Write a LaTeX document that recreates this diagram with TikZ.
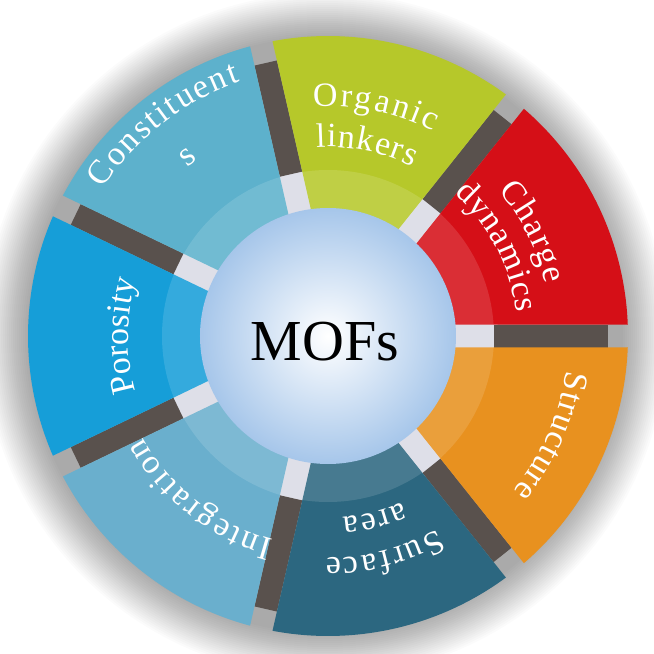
\documentclass[tikz,border=0pt]{standalone}
\usepackage{fontspec}
\setmainfont{Liberation Serif}
\usepackage{xcolor}
\usepackage{tikz}
\usetikzlibrary{decorations.text}

\definecolor{chargered}{HTML}{D50F17}
\definecolor{organicgreen}{HTML}{B6C82A}
\definecolor{constblue}{HTML}{5DB1CC}
\definecolor{porosblue}{HTML}{169ED8}
\definecolor{integblue}{HTML}{6AAFCD}
\definecolor{surfteal}{HTML}{2C6780}
\definecolor{structorange}{HTML}{E8911F}
\definecolor{barbrown}{HTML}{59514D}
\definecolor{gapgray}{HTML}{DADBE5}
\definecolor{mofblue}{HTML}{A6C6EA}

\newcommand{\labelfont}{\fontsize{17}{19}\selectfont}

\tikzset{
  seglabel/.style={decorate, decoration={text along path, text color=white,
      text align=fit to path, text={|\labelfont|#1}}},
  seglabelc/.style={decorate, decoration={text along path, text color=white,
      text align=center, text={|\labelfont|#1}}},
  barfill/.style={fill=barbrown},
}

\begin{document}
\begin{tikzpicture}[x=0.5pt, y=0.5pt]
		\useasboundingbox (-328,-318) rectangle (326,336);
		\fill[white] (-328,-318) rectangle (326,336);
		
		% soft shadow round the wheel
		\foreach \i in {0,...,22} {
			\pgfmathsetmacro{\rr}{298+2*\i}
			\fill[black, opacity=0.014] (-3,1) circle[radius=\rr];
		}
		
		\fill[gapgray, even odd rule] (0,0) circle[radius=170] circle[radius=120];
		
		\foreach \k in {0,...,6}
			\fill[barfill, rotate=\k*360/7] (166,-11.5) rectangle (280,11.5);
		
		\foreach \col [count=\k from 0] in {chargered,organicgreen,constblue,porosblue,integblue,surfteal,structorange} {
			\pgfmathsetmacro{\dO}{asin(11.5/300)}
			\pgfmathsetmacro{\dI}{asin(11.5/122)}
			\pgfmathsetmacro{\sa}{\k*360/7+\dO}
			\pgfmathsetmacro{\ea}{(\k+1)*360/7-\dO}
			\pgfmathsetmacro{\sb}{(\k+1)*360/7-\dI}
			\pgfmathsetmacro{\eb}{\k*360/7+\dI}
			\fill[\col] (\sa:300) arc[start angle=\sa, end angle=\ea, radius=300]
				-- (\sb:122) arc[start angle=\sb, end angle=\eb, radius=122] -- cycle;
		}
		
		\fill[white, opacity=0.13, even odd rule] (0,0) circle[radius=166] circle[radius=120];
		
		\shade[inner color=white, outer color=mofblue] (0,0) circle[radius=128];
		\node[font=\fontsize{29}{32}\selectfont, anchor=base] (mofs) at (-3,-24) {MOFs};
		
		\path[seglabel=Charge] (40.5:224) arc[start angle=40.5, end angle=13.5, radius=224];
		\path[seglabel=dynamics] (48.5:190) arc[start angle=48.5, end angle=7, radius=190];
		\path[seglabel=Organic] (93.7:230) arc[start angle=93.7, end angle=62.8, radius=230];
		\path[seglabel=linkers] (93.5:189) arc[start angle=93.5, end angle=63.5, radius=189];
		\path[seglabel=Constituent] (146.8:269) arc[start angle=146.8, end angle=109, radius=269];
		\path[seglabelc=s] (140:219) arc[start angle=140, end angle=116, radius=219];
		\path[seglabelc=Porosity] (200:200) arc[start angle=200, end angle=160, radius=200];
		\path[seglabel=Integration] (-105:211) arc[start angle=-105, end angle=-151.2, radius=211];
		\path[seglabel=Surface] (-60.4:222) arc[start angle=-60.4, end angle=-90.6, radius=222];
		\path[seglabel=area] (-65.9:182) arc[start angle=-65.9, end angle=-85.4, radius=182];
		\path[seglabel=Structure] (-8.2:241) arc[start angle=-8.2, end angle=-40, radius=241];
	\end{tikzpicture}
\end{document}
